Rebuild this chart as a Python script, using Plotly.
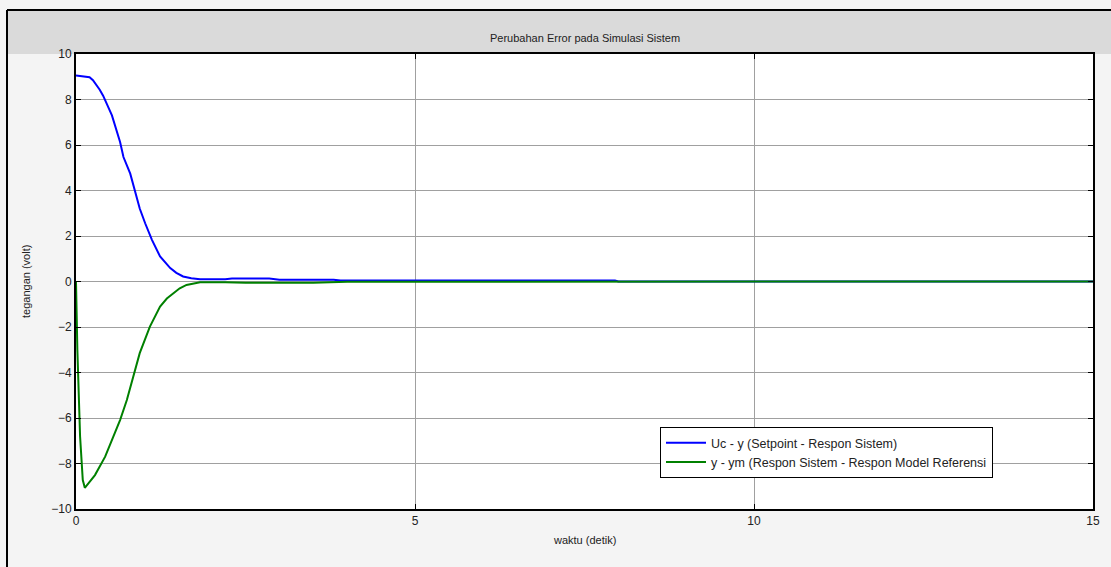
import plotly.graph_objects as go

# Error signals over time (seconds)
t_uc = [0, 0.1, 0.2, 0.25, 0.3, 0.35, 0.4, 0.53, 0.65, 0.7, 0.8, 0.87, 0.94, 1.02, 1.12, 1.24,
        1.32, 1.39, 1.48, 1.58, 1.7, 1.83, 2.2, 2.3, 2.85, 3.0, 3.8, 3.9, 7.95, 8.0, 15]
uc_minus_y = [9.05, 9.03, 8.98, 8.85, 8.65, 8.43, 8.17, 7.3, 6.13, 5.47, 4.74, 3.94, 3.21, 2.56, 1.83, 1.1,
              0.8, 0.59, 0.38, 0.22, 0.14, 0.1, 0.1, 0.13, 0.13, 0.08, 0.08, 0.04, 0.04, 0.0, 0.0]

t_ym = [0, 0.02, 0.06, 0.1, 0.13, 0.18, 0.28, 0.43, 0.53, 0.65, 0.75, 0.85, 0.94, 1.09,
        1.24, 1.34, 1.44, 1.53, 1.63, 1.83, 2.2, 2.5, 3.5, 4.0, 15]
y_minus_ym = [0, -3.0, -6.8, -8.73, -9.07, -8.88, -8.51, -7.7, -6.97, -6.09, -5.21, -4.11, -3.15, -1.98,
              -1.1, -0.75, -0.51, -0.3, -0.15, -0.03, -0.03, -0.06, -0.05, -0.01, 0.0]

x_ticks = [0, 5, 10, 15]
y_ticks = [-10, -8, -6, -4, -2, 0, 2, 4, 6, 8, 10]

W, H = 1111, 567
ML, MR, MT, MB = 76, 18, 54, 58
PW, PH = W - ML - MR, H - MT - MB


def px_x(px):
    return (px - ML) / PW


def px_y(py):
    return (H - MB - py) / PH


FONT = "Liberation Sans, Arial, sans-serif"

fig = go.Figure()
fig.add_trace(go.Scatter(x=t_uc, y=uc_minus_y, mode="lines",
                         line=dict(color="#0000ff", width=2),
                         name="Uc - y (Setpoint - Respon Sistem)"))
fig.add_trace(go.Scatter(x=t_ym, y=y_minus_ym, mode="lines",
                         line=dict(color="#008000", width=2),
                         name="y - ym (Respon Sistem - Respon Model Referensi"))

axis_common = dict(showline=True, linecolor="black", linewidth=2, mirror="ticks",
                   ticks="inside", ticklen=5, tickcolor="black",
                   showgrid=True, gridcolor="#a0a0a0", gridwidth=1,
                   zeroline=False, tickfont=dict(family=FONT, size=12, color="#222"))

fig.update_xaxes(range=[0, 15], tickvals=x_ticks, **axis_common)
fig.update_yaxes(range=[-10, 10], tickvals=y_ticks, **axis_common)

shapes = [
    # grey band behind the title
    dict(type="rect", xref="paper", yref="paper", x0=px_x(7), x1=px_x(W + 5),
         y0=px_y(MT), y1=px_y(10), fillcolor="#dadada", line=dict(width=0), layer="below"),
    # window frame
    dict(type="line", xref="paper", yref="paper", x0=px_x(7), x1=px_x(W + 5),
         y0=px_y(10), y1=px_y(10), line=dict(color="black", width=2)),
    dict(type="line", xref="paper", yref="paper", x0=px_x(7), x1=px_x(7),
         y0=px_y(10), y1=px_y(H + 5), line=dict(color="black", width=2)),
]

fig.update_layout(
    width=W, height=H,
    margin=dict(l=ML, r=MR, t=MT, b=MB),
    paper_bgcolor="#f4f4f4",
    plot_bgcolor="white",
    font=dict(family=FONT, size=12, color="#222"),
    shapes=shapes,
    showlegend=True,
    legend=dict(x=px_x(660), y=px_y(427), xanchor="left", yanchor="top",
                bgcolor="white", bordercolor="black", borderwidth=1,
                font=dict(family=FONT, size=12.5, color="#222"),
                tracegroupgap=0, itemwidth=40),
    annotations=[
        dict(text="Perubahan Error pada Simulasi Sistem", xref="paper", yref="paper",
             x=0.5, y=px_y(38), xanchor="center", yanchor="middle", showarrow=False,
             font=dict(family=FONT, size=11, color="#222")),
        dict(text="waktu (detik)", xref="paper", yref="paper",
             x=0.5, y=px_y(540), xanchor="center", yanchor="middle", showarrow=False,
             font=dict(family=FONT, size=11, color="#222")),
        dict(text="tegangan (volt)", xref="paper", yref="paper", textangle=-90,
             x=px_x(26), y=px_y(282), xanchor="center", yanchor="middle", showarrow=False,
             font=dict(family=FONT, size=11, color="#222")),
    ],
)

fig.write_html("out.html")
